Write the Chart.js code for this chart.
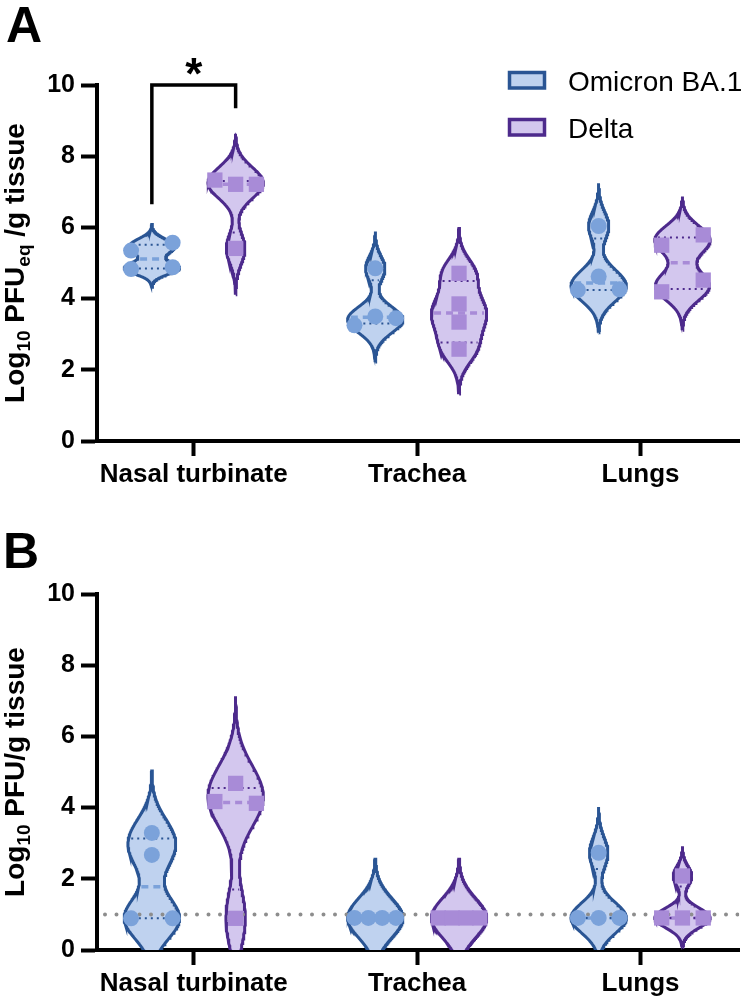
<!DOCTYPE html>
<html>
<head>
<meta charset="utf-8">
<script src="https://cdn.jsdelivr.net/npm/chart.js@4.4.1/dist/chart.umd.min.js"></script>
<style>
    body { margin: 0; background: #ffffff; }
    canvas { display: block; }
</style>
</head>
<body>
<canvas id="panelA" width="750" height="500"></canvas>
<canvas id="panelB" width="750" height="502"></canvas>
<script>
// Categories, series and ticks
const tissues = [ 'Nasal turbinate', 'Trachea', 'Lungs' ];
const variants = [ 'Omicron BA.1', 'Delta' ];
const yTicks = [ 0, 2, 4, 6, 8, 10 ];

// Panel A - Log10 PFUeq/g tissue (one value per animal)
const omicronA_nasal = [ 5.35, 5.57, 4.83, 4.88 ];
const omicronA_trachea = [ 4.85, 3.25, 3.50, 3.45 ];
const omicronA_lungs = [ 6.04, 4.24, 4.62, 4.26 ];
const deltaA_nasal = [ 7.33, 7.21, 7.21, 5.41 ];
const deltaA_trachea = [ 4.71, 3.85, 3.34, 2.58 ];
const deltaA_lungs = [ 5.50, 5.79, 4.19, 4.52 ];

// Panel B - Log10 PFU/g tissue
const omicronB_nasal = [ 3.29, 2.67, 0.89, 0.89 ];
const omicronB_trachea = [ 0.90, 0.90, 0.90, 0.90 ];
const omicronB_lungs = [ 2.73, 0.90, 0.90, 0.90 ];
const deltaB_nasal = [ 4.68, 4.17, 4.12, 0.89 ];
const deltaB_trachea = [ 0.90, 0.90, 0.90, 0.90 ];
const deltaB_lungs = [ 2.08, 0.90, 0.90, 0.90 ];

// limit of detection (panel B) and significance bracket ends (panel A)
const detectionLimit = 1;
const bracketLevels = [ 6.65, 10, 10, 9.35 ];

// look
const FONT = '"Liberation Sans", Arial, Helvetica, sans-serif';
const colors = [
    { fill: '#bfd2ef', line: '#2a5594', point: '#7ba2da' },
    { fill: '#d3c7ee', line: '#4d2a8c', point: '#a88bd7' }
];
const X_MIN = 0.567, X_MAX = 3.4415;
const GROUP_SHIFT = 0.1875;   // omicron left, delta right of the tick
const HALF_WIDTH = 0.124;     // widest violin half width (x units)
const SPREAD = 0.093;         // point spread inside a cluster
const CLUSTER_GAP = 0.45;     // values closer than this overlap
const BW_FACTOR = 0.47;       // kernel bandwidth relative to SD
const BW_FALLBACK = 0.55;     // bandwidth when all values equal
const TAIL = 3;               // tails reach 3 bandwidths

function stdDev ( vals )
{
    var m = vals.reduce( ( a, v ) => a + v, 0 ) / vals.length;
    var ss = vals.reduce( ( a, v ) => a + ( v - m ) * ( v - m ), 0 );
    return Math.sqrt( ss / ( vals.length - 1 ) );
}

function quantile ( vals, p )
{
    var s = vals.slice().sort( ( a, b ) => a - b );
    var pos = p * ( s.length + 1 );
    if ( pos <= 1 ) return s[ 0 ];
    if ( pos >= s.length ) return s[ s.length - 1 ];
    var lo = Math.floor( pos );
    return s[ lo - 1 ] + ( pos - lo ) * ( s[ lo ] - s[ lo - 1 ] );
}

function violinModel ( vals )
{
    var sd = stdDev( vals );
    var h = sd > 0 ? BW_FACTOR * sd : BW_FALLBACK;
    var dens = y => vals.reduce( ( a, v ) => a + Math.exp( -0.5 * Math.pow( ( y - v ) / h, 2 ) ), 0 );
    var lo = Math.min( ...vals ) - TAIL * h;
    var hi = Math.max( ...vals ) + TAIL * h;
    var ys = [], max = 0;
    for ( var i = 0; i <= 200; i++ )
    {
        var y = lo + ( hi - lo ) * i / 200;
        ys.push( y );
        max = Math.max( max, dens( y ) );
    }
    return { ys: ys, width: y => dens( y ) / max * HALF_WIDTH };
}

// spread overlapping points sideways, keeping the data order inside a cluster
function pointPositions ( vals, cx )
{
    var idx = vals.map( ( v, i ) => i ).sort( ( a, b ) => vals[ a ] - vals[ b ] );
    var clusters = [ [ idx[ 0 ] ] ];
    for ( var k = 1; k < idx.length; k++ )
    {
        if ( vals[ idx[ k ] ] - vals[ idx[ k - 1 ] ] < CLUSTER_GAP ) clusters[ clusters.length - 1 ].push( idx[ k ] );
        else clusters.push( [ idx[ k ] ] );
    }
    var xs = [];
    clusters.forEach( c =>
    {
        c.sort( ( a, b ) => a - b );
        c.forEach( ( i, j ) =>
        {
            xs[ i ] = cx + ( c.length === 1 ? 0 : -SPREAD + 2 * SPREAD * j / ( c.length - 1 ) );
        } );
    } );
    return vals.map( ( v, i ) => ( { x: xs[ i ], y: v } ) );
}

function groupDatasets ( vals, catIndex, variantIndex )
{
    var cx = catIndex + 1 + ( variantIndex === 0 ? -GROUP_SHIFT : GROUP_SHIFT );
    var col = colors[ variantIndex ];
    var model = violinModel( vals );
    var outline = [];
    model.ys.forEach( y => outline.push( { x: cx + model.width( y ), y: y } ) );
    model.ys.slice().reverse().forEach( y => outline.push( { x: cx - model.width( y ), y: y } ) );

    var summaryLine = ( y, style ) =>
    {
        var w = Math.max( model.width( y ) - 0.012, 0 );
        return Object.assign( {
            data: [ { x: cx - w, y: y }, { x: cx + w, y: y } ],
            showLine: true, pointRadius: 0, order: 1, clip: 0
        }, style );
    };

    return [
        {
            label: variants[ variantIndex ],
            data: outline,
            showLine: true,
            pointRadius: 0,
            borderColor: col.line,
            borderWidth: 3,
            backgroundColor: col.fill,
            fill: 'shape',
            order: 2,
            clip: 0
        },
        summaryLine( quantile( vals, 0.25 ), { borderColor: col.line, borderWidth: 2, borderDash: [ 2, 4 ] } ),
        summaryLine( quantile( vals, 0.75 ), { borderColor: col.line, borderWidth: 2, borderDash: [ 2, 4 ] } ),
        summaryLine( quantile( vals, 0.5 ), { borderColor: col.point, borderWidth: 3.5, borderDash: [ 7, 5 ] } ),
        {
            data: pointPositions( vals, cx ),
            pointStyle: variantIndex === 0 ? 'circle' : 'rect',
            pointRadius: variantIndex === 0 ? 8 : 10.8,
            pointBackgroundColor: col.point,
            pointBorderWidth: 0,
            order: 0,
            clip: false
        }
    ];
}

// draws titles, legend and labels that Chart.js has no slot for
function drawRichVertical ( ctx, x, yCenter, parts, size )
{
    ctx.save();
    ctx.translate( x, yCenter );
    ctx.rotate( -Math.PI / 2 );
    ctx.fillStyle = '#000';
    ctx.textBaseline = 'alphabetic';
    var fontFor = p => 'bold ' + ( p.sub ? size * 0.68 : size ) + 'px ' + FONT;
    var total = 0;
    parts.forEach( p => { ctx.font = fontFor( p ); total += ctx.measureText( p.t ).width; } );
    var cur = -total / 2;
    parts.forEach( p =>
    {
        ctx.font = fontFor( p );
        ctx.fillText( p.t, cur, p.sub ? size * 0.22 : 0 );
        cur += ctx.measureText( p.t ).width;
    } );
    ctx.restore();
}

function annotationPlugin ( cfg )
{
    return {
        id: 'annotations',
        afterDraw: function ( chart )
        {
            var ctx = chart.ctx;
            var yScale = chart.scales.y, xScale = chart.scales.x;
            ctx.save();
            ctx.fillStyle = '#000';
            ctx.font = 'bold 50px ' + FONT;
            ctx.textBaseline = 'alphabetic';
            ctx.fillText( cfg.letter, cfg.letterX, cfg.letterY );

            drawRichVertical( ctx, 24, yScale.getPixelForValue( 5 ), cfg.title, 28 );

            if ( cfg.legend )
            {
                variants.forEach( ( name, i ) =>
                {
                    var top = 71 + i * 47;
                    ctx.fillStyle = colors[ i ].fill;
                    ctx.fillRect( 509.5, top + 1.5, 35, 15.5 );
                    ctx.strokeStyle = colors[ i ].line;
                    ctx.lineWidth = 3.5;
                    ctx.strokeRect( 509.5, top + 1.5, 35, 15.5 );
                    ctx.fillStyle = '#000';
                    ctx.font = '28px ' + FONT;
                    ctx.fillText( name, 568, top + 20 );
                } );
            }

            if ( cfg.star )
            {
                ctx.fillStyle = '#000';
                ctx.font = 'bold 44px ' + FONT;
                ctx.textAlign = 'center';
                ctx.fillText( '*', xScale.getPixelForValue( 1 ), yScale.getPixelForValue( 10 ) + 4 );
            }
            ctx.restore();
        }
    };
}

function makePanel ( canvasId, groups, cfg )
{
    var datasets = [];
    groups.forEach( ( row, variantIndex ) =>
    {
        row.forEach( ( vals, catIndex ) =>
        {
            datasets = datasets.concat( groupDatasets( vals, catIndex, variantIndex ) );
        } );
    } );

    if ( cfg.detectionLine )
    {
        datasets.push( {
            data: [ { x: X_MIN, y: detectionLimit }, { x: X_MAX, y: detectionLimit } ],
            showLine: true,
            pointRadius: 0,
            borderColor: '#8d8d8d',
            borderWidth: 4,
            borderDash: [ 0, 11.5 ],
            borderCapStyle: 'round',
            borderDashOffset: -8,
            order: 1
        } );
    }

    if ( cfg.bracket )
    {
        var bx = [ 1 - GROUP_SHIFT, 1 - GROUP_SHIFT, 1 + GROUP_SHIFT, 1 + GROUP_SHIFT ];
        datasets.push( {
            data: bracketLevels.map( ( v, i ) => ( { x: bx[ i ], y: v } ) ),
            showLine: true,
            pointRadius: 0,
            borderColor: '#000',
            borderWidth: 3.5,
            borderCapStyle: 'butt',
            order: 1,
            clip: false
        } );
    }

    var tickFont = { family: FONT, size: 25, weight: 'bold' };

    return new Chart( document.getElementById( canvasId ), {
        type: 'scatter',
        data: { datasets: datasets },
        options: {
            responsive: false,
            animation: false,
            layout: { padding: { top: cfg.top, right: 3, left: 0, bottom: 0 } },
            plugins: {
                legend: { display: false },
                tooltip: { enabled: false }
            },
            scales: {
                x: {
                    type: 'linear',
                    min: X_MIN,
                    max: X_MAX,
                    z: 1,
                    afterBuildTicks: s => { s.ticks = tissues.map( ( t, i ) => ( { value: i + 1 } ) ); },
                    afterFit: s => { s.height = cfg.xHeight; },
                    ticks: {
                        callback: v => tissues[ v - 1 ],
                        font: { family: FONT, size: 26, weight: 'bold' },
                        color: '#000',
                        padding: 3,
                        maxRotation: 0,
                        autoSkip: false
                    },
                    grid: { drawOnChartArea: false, tickLength: 15, tickWidth: 4, tickColor: '#000' },
                    border: { width: 4, color: '#000' }
                },
                y: {
                    min: 0,
                    max: 10,
                    z: 1,
                    afterBuildTicks: s => { s.ticks = yTicks.map( v => ( { value: v } ) ); },
                    afterFit: s => { s.width = 97; },
                    ticks: { font: tickFont, color: '#000', padding: 6 },
                    grid: { drawOnChartArea: false, tickLength: 16, tickWidth: 4, tickColor: '#000' },
                    border: { width: 4, color: '#000' }
                }
            }
        },
        plugins: [ annotationPlugin( cfg ) ]
    } );
}

makePanel( 'panelA', [
    [ omicronA_nasal, omicronA_trachea, omicronA_lungs ],
    [ deltaA_nasal, deltaA_trachea, deltaA_lungs ]
], {
    top: 85, xHeight: 59, letter: 'A', letterX: 6, letterY: 42, legend: true, star: true, bracket: true,
    title: [ { t: 'Log' }, { t: '10', sub: true }, { t: ' PFU' }, { t: 'eq', sub: true }, { t: ' /g tissue' } ]
} );

makePanel( 'panelB', [
    [ omicronB_nasal, omicronB_trachea, omicronB_lungs ],
    [ deltaB_nasal, deltaB_trachea, deltaB_lungs ]
], {
    top: 94, xHeight: 52, letter: 'B', letterX: 3, letterY: 68, detectionLine: true,
    title: [ { t: 'Log' }, { t: '10', sub: true }, { t: ' PFU/g tissue' } ]
} );
</script>
</body>
</html>
